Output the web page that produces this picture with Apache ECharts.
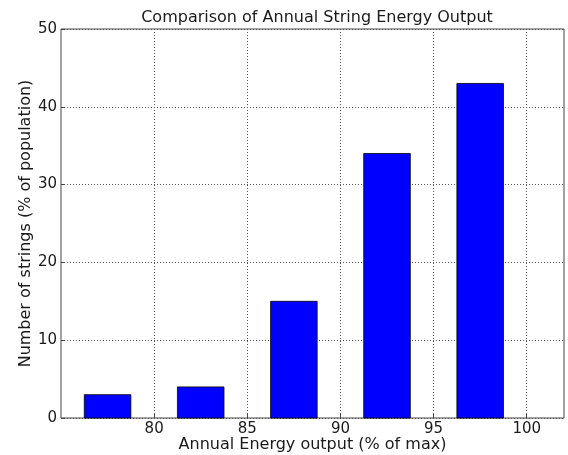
<!DOCTYPE html>
<html>
<head>
<meta charset="utf-8">
<script src="https://cdn.jsdelivr.net/npm/echarts@6/dist/echarts.min.js"></script>
<style>html,body{margin:0;padding:0;background:#fff}#c{width:568px;height:455px}</style>
</head>
<body>
<div id="c"></div>
<script>
const binCenters = [77.5, 82.5, 87.5, 92.5, 97.5];
const binWidth = 2.5;
const percentages = [3, 4, 15, 34, 43];
const xTicks = [80, 85, 90, 95, 100];
const yTicks = [0, 10, 20, 30, 40, 50];

const chart = echarts.init(document.getElementById('c'));
const font = 'DejaVu Sans';
const textColor = '#1a1a1a';
const data = binCenters.map((c, i) => [c, percentages[i]]);
const gridStyle = { show: true, lineStyle: { color: '#555', type: [1, 2], width: 1 } };
chart.setOption({
  animation: false,
  title: {
    text: 'Comparison of Annual String Energy Output',
    left: 312, top: 5, textAlign: 'center',
    textStyle: { fontFamily: font, fontSize: 16, fontWeight: 'normal', color: textColor }
  },
  grid: { left: 61, right: 4, top: 29, bottom: 37, show: true, borderColor: '#444', borderWidth: 1,
          containLabel: false, outerBoundsMode: 'none' },
  xAxis: [{
    type: 'value', min: 75, max: 102, interval: 5,
    axisLine: { show: false },
    axisTick: { show: true, inside: true, length: 4, lineStyle: { color: '#444' }, customValues: xTicks },
    axisLabel: { fontFamily: font, fontSize: 15, color: textColor, margin: 4, customValues: xTicks },
    splitLine: Object.assign({}, gridStyle),
    name: 'Annual Energy output (% of max)', nameLocation: 'middle', nameGap: 27, nameMoveOverlap: false,
    nameTextStyle: { fontFamily: font, fontSize: 16, color: textColor, verticalAlign: 'middle' }
  }],
  yAxis: [{
    type: 'value', min: 0, max: 50, interval: 10,
    axisLine: { show: false },
    axisTick: { show: true, inside: true, length: 4, lineStyle: { color: '#444' }, customValues: yTicks },
    axisLabel: { fontFamily: font, fontSize: 15, color: textColor, margin: 4, customValues: yTicks },
    splitLine: gridStyle,
    name: 'Number of strings (% of population)', nameLocation: 'middle', nameGap: 35, nameMoveOverlap: false,
    nameTextStyle: { fontFamily: font, fontSize: 16, color: textColor, verticalAlign: 'middle' }
  }],
  series: [{
    type: 'custom',
    data: data,
    renderItem: function (params, api) {
      const x = api.value(0), y = api.value(1);
      const p1 = api.coord([x - binWidth / 2, y]);
      const p2 = api.coord([x + binWidth / 2, 0]);
      return {
        type: 'rect',
        shape: { x: p1[0], y: p1[1], width: p2[0] - p1[0], height: p2[1] - p1[1] },
        style: { fill: '#0000ff', stroke: '#000', lineWidth: 0.8 }
      };
    },
    encode: { x: 0, y: 1 }
  }]
});
</script>
</body>
</html>
